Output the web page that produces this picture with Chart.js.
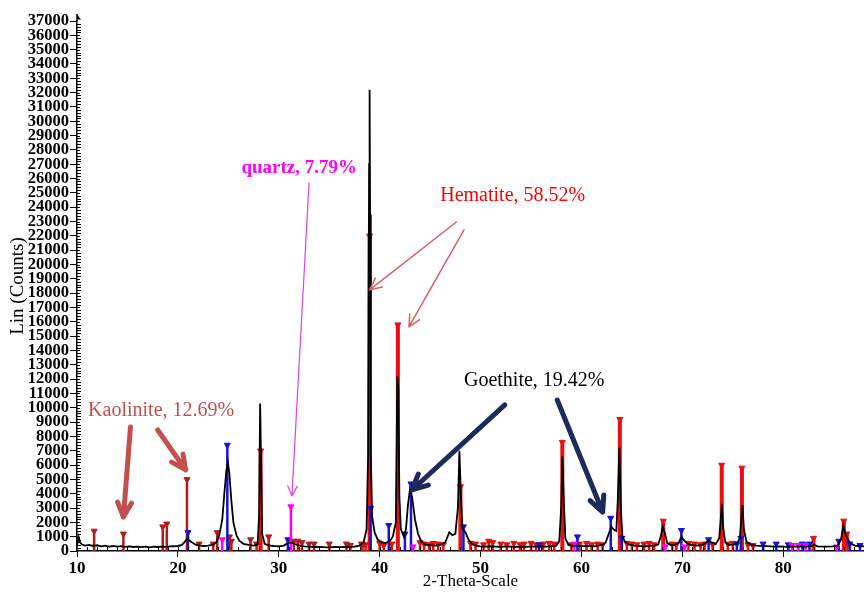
<!DOCTYPE html>
<html>
<head>
<meta charset="utf-8">
<script src="https://cdn.jsdelivr.net/npm/chart.js@4/dist/chart.umd.min.js"></script>
<style>
    html, body { margin: 0; padding: 0; background: #fff; }
    #wrap { width: 864px; height: 592px; }
</style>
</head>
<body>
<div id="wrap"><canvas id="myChart"></canvas></div>
<script>
// Measured pattern (black line)
const scanTheta = [10.0, 10.15, 10.3, 10.5, 10.8, 11.2, 11.6, 12.0, 12.4, 12.8, 13.2, 13.6, 14.0, 14.4, 14.8, 15.2, 15.6, 16.0, 16.4, 16.8, 17.2, 17.6, 18.0, 18.4, 18.8, 19.2, 19.6, 20.0, 20.4, 20.7, 20.95, 21.2, 21.5, 21.8, 22.2, 22.6, 23.0, 23.4, 23.8, 24.1, 24.4, 24.6, 24.8, 24.95, 25.1, 25.3, 25.5, 25.8, 26.1, 26.5, 27.0, 27.5, 27.9, 28.05, 28.15, 28.25, 28.35, 28.6, 29.0, 29.5, 30.0, 30.5, 30.9, 31.2, 31.6, 32.0, 32.5, 33.0, 33.5, 34.0, 34.5, 35.0, 35.5, 36.0, 36.5, 37.0, 37.5, 38.0, 38.4, 38.7, 38.85, 38.95, 39.0, 39.05, 39.12, 39.25, 39.5, 39.8, 40.2, 40.6, 41.0, 41.3, 41.6, 41.75, 41.85, 41.95, 42.1, 42.4, 42.6, 42.8, 43.0, 43.2, 43.5, 43.8, 44.1, 44.5, 45.0, 45.5, 46.0, 46.5, 46.9, 47.2, 47.5, 47.75, 47.9, 48.05, 48.2, 48.5, 48.8, 49.2, 49.6, 50.0, 50.5, 51.0, 51.5, 52.0, 52.5, 53.0, 53.5, 54.0, 54.5, 55.0, 55.5, 56.0, 56.5, 57.0, 57.5, 57.8, 58.0, 58.1, 58.25, 58.4, 58.7, 59.2, 59.7, 60.2, 60.7, 61.2, 61.7, 62.1, 62.4, 62.7, 62.95, 63.2, 63.45, 63.6, 63.75, 63.9, 64.05, 64.3, 64.7, 65.2, 65.7, 66.2, 66.7, 67.2, 67.6, 67.85, 68.05, 68.25, 68.5, 68.9, 69.3, 69.65, 69.9, 70.15, 70.5, 71.0, 71.5, 72.0, 72.3, 72.6, 72.9, 73.3, 73.65, 73.8, 73.92, 74.05, 74.25, 74.6, 75.0, 75.4, 75.7, 75.85, 75.95, 76.1, 76.35, 76.8, 77.3, 77.8, 78.3, 78.8, 79.3, 79.8, 80.3, 80.8, 81.3, 81.8, 82.3, 82.8, 83.1, 83.4, 83.9, 84.4, 84.9, 85.4, 85.75, 85.95, 86.15, 86.4, 86.7, 87.1, 87.5, 88.0];
const scanCounts = [300, 1000, 600, 450, 380, 420, 350, 400, 330, 370, 310, 350, 300, 340, 290, 320, 280, 310, 270, 300, 260, 300, 280, 310, 290, 320, 330, 350, 420, 650, 900, 700, 550, 420, 380, 350, 380, 420, 600, 1100, 2200, 4000, 5600, 6200, 5400, 3500, 2000, 1100, 700, 500, 420, 380, 450, 2500, 10300, 6000, 1200, 500, 400, 350, 320, 380, 550, 600, 480, 400, 330, 300, 280, 290, 270, 260, 280, 270, 290, 280, 300, 380, 600, 1500, 6700, 27000, 32200, 23500, 6700, 2400, 1300, 800, 600, 550, 700, 1000, 2000, 12200, 11400, 3800, 1500, 1000, 1500, 3200, 4300, 3800, 2200, 1200, 700, 450, 400, 380, 420, 600, 1300, 1100, 1200, 3000, 7000, 3800, 1600, 1300, 800, 450, 350, 320, 300, 330, 310, 290, 320, 300, 280, 310, 290, 320, 300, 330, 310, 340, 380, 700, 3200, 6600, 3500, 900, 420, 350, 380, 340, 360, 330, 380, 450, 600, 1200, 1700, 1500, 1400, 3600, 7200, 3000, 1000, 650, 450, 380, 350, 330, 350, 380, 450, 1000, 1700, 1300, 550, 400, 420, 600, 1000, 750, 500, 400, 380, 420, 550, 750, 600, 480, 900, 2200, 3300, 1600, 600, 430, 450, 520, 900, 2400, 3200, 1500, 650, 430, 380, 360, 340, 320, 300, 320, 290, 310, 300, 320, 300, 340, 420, 330, 300, 310, 320, 380, 900, 1800, 1200, 800, 500, 380, 340, 320];

// Reference lines, one pair of arrays per phase
const hematiteTheta = [28.2, 39.0, 41.8, 48.0, 58.1, 63.8, 68.1, 73.9, 75.9, 83.0, 86.0, 86.3];
const hematiteCounts = [7000, 22000, 15800, 4500, 7600, 9200, 2100, 6000, 5800, 900, 2100, 1200];

const kaoliniteTheta = [11.7, 14.6, 18.5, 18.9, 20.9, 22.1, 23.5, 23.9, 25.1, 25.3, 27.2, 27.8, 29.0, 31.5, 31.9, 32.3, 33.0, 33.5, 35.0, 36.7, 37.1, 38.3];
const kaoliniteCounts = [1400, 1200, 1700, 1900, 5000, 500, 500, 1300, 1000, 700, 800, 500, 1000, 700, 700, 600, 500, 500, 500, 500, 400, 450];

const goethiteTheta = [21.0, 24.9, 30.9, 39.1, 40.9, 42.5, 43.1, 48.3, 55.8, 59.6, 62.9, 64.0, 69.9, 72.6, 75.4, 75.8, 78.0, 79.3, 80.5, 81.9, 82.6, 85.5, 86.6, 87.6];
const goethiteCounts = [1300, 7400, 800, 3000, 1800, 1200, 4700, 1700, 450, 1000, 2300, 900, 1450, 800, 500, 900, 500, 500, 450, 500, 500, 700, 500, 400];

const quartzTheta = [24.4, 31.2, 43.3, 59.3, 68.3, 70.2, 80.9, 81.5, 82.2, 85.3];
const quartzCounts = [800, 3100, 300, 500, 300, 300, 400, 400, 400, 300];

const minorTheta = [38.2, 38.6, 40.0, 40.4, 41.2, 44.0, 44.4, 44.9, 45.3, 45.8, 46.3, 49.0, 49.5, 50.3, 50.8, 51.2, 52.0, 52.6, 53.3, 53.9, 54.3, 55.0, 55.5, 56.2, 56.8, 57.3, 59.0, 59.8, 60.5, 61.0, 61.6, 62.1, 64.5, 65.0, 65.5, 66.2, 66.7, 67.2, 69.0, 69.4, 70.6, 71.2, 71.8, 72.2, 73.0, 74.5, 75.0, 76.5, 77.0];
const minorCounts = [500, 450, 550, 400, 500, 600, 500, 450, 550, 500, 450, 550, 500, 450, 700, 600, 500, 450, 550, 450, 500, 550, 450, 500, 550, 500, 450, 500, 550, 450, 500, 450, 550, 500, 450, 500, 550, 450, 500, 450, 550, 500, 450, 500, 450, 500, 550, 450, 400];

const xTicks = [10, 20, 30, 40, 50, 60, 70, 80];

drawChart();

function drawChart() {
    function sticks(theta, counts) {
        const pts = [];
        theta.forEach((t, i) => {
            pts.push({ x: t, y: 0 }, { x: t, y: counts[i], cap: true }, { x: t, y: null });
        });
        return pts;
    }
    function stickSet(data, color, width, order) {
        return {
            data: data,
            showLine: true,
            spanGaps: false,
            borderColor: color,
            backgroundColor: color,
            borderWidth: width,
            pointStyle: "triangle",
            rotation: 180,
            pointRadius: (c) => (c.raw && c.raw.cap ? 3.5 : 0),
            pointBorderWidth: 1,
            order: order
        };
    }

    // Notes and arrows, in data units
    const notes = [
        { text: "Kaolinite, 12.69%", x: 11.1, y: 9780, color: "#c4504e", font: "20px 'Liberation Serif'" },
        { text: "quartz, 7.79%", x: 26.3, y: 26740, color: "#ff00ff", font: "bold 19px 'Liberation Serif'" },
        { text: "Hematite, 58.52%", x: 46.0, y: 24780, color: "#ff0000", font: "20px 'Liberation Serif'" },
        { text: "Goethite, 19.42%", x: 48.35, y: 11870, color: "#000000", font: "20px 'Liberation Serif'" }
    ];
    const arrows = [
        { from: [15.3, 8660], to: [14.6, 2370], color: "#c4504e", width: 5, head: 16 },
        { from: [18.0, 8450], to: [20.76, 5660], color: "#c4504e", width: 5, head: 16 },
        { from: [33.0, 25700], to: [31.3, 3840], color: "#e040e0", width: 1.2, head: 11 },
        { from: [47.6, 22970], to: [39.0, 18230], color: "#d86060", width: 1.5, head: 13 },
        { from: [48.35, 22420], to: [42.9, 15640], color: "#d86060", width: 1.5, head: 13 },
        { from: [52.4, 10200], to: [43.2, 4260], color: "#1c2a5e", width: 5, head: 17 },
        { from: [57.6, 10540], to: [62.1, 2720], color: "#1c2a5e", width: 5, head: 17 }
    ];

    const decorate = {
        id: "decorate",
        afterDatasetsDraw(chart) {
            const ctx = chart.ctx;
            const xs = chart.scales.x, ys = chart.scales.y;
            const px = (v) => xs.getPixelForValue(v), py = (v) => ys.getPixelForValue(v);
            ctx.save();
            // minor ticks
            ctx.strokeStyle = "#000";
            ctx.lineWidth = 1;
            ctx.beginPath();
            for (let v = 200; v < 37000; v += 200) {
                const y = Math.round(py(v)) + 0.5;
                const len = v % 1000 === 0 ? 3 : 4;
                ctx.moveTo(xs.left, y);
                ctx.lineTo(xs.left + len, y);
            }
            for (let v = 11; v < 88; v += 1) {
                const x = Math.round(px(v)) + 0.5;
                ctx.moveTo(x, ys.bottom);
                ctx.lineTo(x, ys.bottom - 4);
            }
            ctx.stroke();
            // arrow tip at top of y axis
            ctx.fillStyle = "#000";
            ctx.beginPath();
            ctx.moveTo(xs.left, ys.top - 7);
            ctx.lineTo(xs.left + 4, ys.top - 1);
            ctx.lineTo(xs.left, ys.top - 2);
            ctx.closePath();
            ctx.fill();
            ctx.fillRect(xs.left - 0.75, ys.top - 7, 1.5, 7);

            arrows.forEach((a) => {
                const x1 = px(a.from[0]), y1 = py(a.from[1]);
                const x2 = px(a.to[0]), y2 = py(a.to[1]);
                const ang = Math.atan2(y2 - y1, x2 - x1);
                ctx.strokeStyle = a.color;
                ctx.lineWidth = a.width;
                ctx.lineCap = "round";
                ctx.lineJoin = "round";
                ctx.beginPath();
                ctx.moveTo(x1, y1);
                ctx.lineTo(x2, y2);
                ctx.moveTo(x2 - a.head * Math.cos(ang - 0.45), y2 - a.head * Math.sin(ang - 0.45));
                ctx.lineTo(x2, y2);
                ctx.lineTo(x2 - a.head * Math.cos(ang + 0.45), y2 - a.head * Math.sin(ang + 0.45));
                ctx.stroke();
            });

            ctx.textBaseline = "middle";
            ctx.textAlign = "left";
            notes.forEach((n) => {
                ctx.font = n.font;
                ctx.fillStyle = n.color;
                ctx.fillText(n.text, px(n.x), py(n.y));
            });
            ctx.restore();
        }
    };

    const scan = {
        data: scanTheta.map((t, i) => ({ x: t, y: scanCounts[i] })),
        showLine: true,
        borderColor: "#000",
        borderWidth: 1.8,
        pointRadius: 0,
        tension: 0,
        order: 0
    };

    const config = {
        type: "scatter",
        data: {
            datasets: [
                scan,
                stickSet(sticks(quartzTheta, quartzCounts), "#ff00ff", 2.5, 1),
                stickSet(sticks(goethiteTheta, goethiteCounts), "#1414d8", 2.5, 2),
                stickSet(sticks(hematiteTheta, hematiteCounts), "#e81010", 4, 3),
                stickSet(sticks(kaoliniteTheta, kaoliniteCounts), "#b01c1c", 2.5, 4),
                stickSet(sticks(minorTheta, minorCounts), "#e01010", 2.5, 5)
            ]
        },
        options: {
            responsive: true,
            maintainAspectRatio: false,
            animation: false,
            layout: { padding: { top: 21, right: 0, left: 0, bottom: 0 } },
            plugins: {
                legend: { display: false },
                tooltip: { enabled: false }
            },
            scales: {
                x: {
                    type: "linear",
                    min: 10,
                    max: 88,
                    afterBuildTicks: (s) => { s.ticks = xTicks.map((v) => ({ value: v })); },
                    afterFit: (s) => { s.height = 41; },
                    border: { color: "#000", width: 1.5 },
                    grid: { drawOnChartArea: false, tickLength: 6, color: "#000", tickWidth: 1 },
                    ticks: {
                        color: "#000",
                        padding: 1,
                        maxRotation: 0,
                        font: { family: "'Liberation Serif'", size: 17, weight: "bold" }
                    },
                    title: {
                        display: true,
                        text: "2-Theta-Scale",
                        color: "#000",
                        padding: 0,
                        font: { family: "'Liberation Serif'", size: 17 }
                    }
                },
                y: {
                    min: 0,
                    max: 37000,
                    afterFit: (s) => { s.width = 77; },
                    border: { color: "#000", width: 1.5 },
                    grid: { drawOnChartArea: false, tickLength: 7, color: "#000", tickWidth: 1 },
                    ticks: {
                        stepSize: 1000,
                        autoSkip: false,
                        color: "#000",
                        padding: 1,
                        callback: (v) => String(v),
                        font: { family: "'Liberation Serif'", size: 16.5, weight: "bold", lineHeight: 1 }
                    },
                    title: {
                        display: true,
                        text: "Lin (Counts)",
                        color: "#000",
                        padding: { top: 7, bottom: 0 },
                        font: { family: "'Liberation Serif'", size: 19 }
                    }
                }
            }
        },
        plugins: [decorate]
    };

    const myChart = new Chart(document.getElementById("myChart"), config);
}
</script>
</body>
</html>
